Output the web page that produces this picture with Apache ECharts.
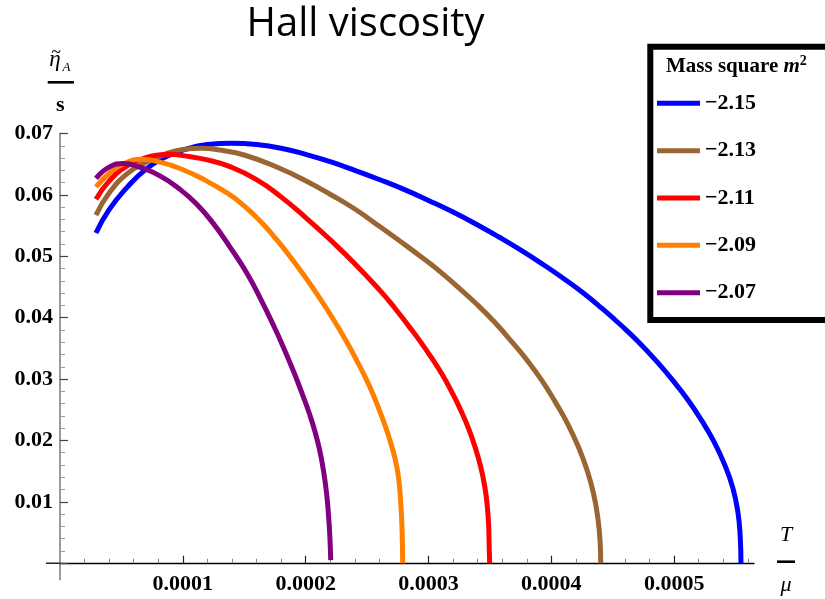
<!DOCTYPE html>
<html><head><meta charset="utf-8">
<script src="https://cdn.jsdelivr.net/npm/echarts@6/dist/echarts.min.js"></script>
<style>html,body{margin:0;padding:0;background:#fff}#c{width:825px;height:599px}</style>
</head><body><div id="c"></div>
<script>
// ---- data; T in units of 1e-4 ----
const seriesNames = ['\u22122.15', '\u22122.13', '\u22122.11', '\u22122.09', '\u22122.07'];
const T_UNIT = 1e-4;

const T_215 = [0.293,0.40,0.55,0.70,0.85,1.00,1.20,1.40,1.60,1.80,2.00,2.20,2.40,2.60,2.80,3.00,3.20,3.400,3.577,3.752,3.923,4.091,4.255,4.413,4.565,4.712,4.852,4.984,5.108,5.222,5.324,5.410,5.477,5.519,5.538,5.544];
const eta_215 = [0.0538,0.0576,0.0613,0.0642,0.0661,0.0673,0.0682,0.0684,0.0682,0.0676,0.0666,0.0654,0.0640,0.0625,0.0609,0.0591,0.0572,0.0551,0.0531,0.0510,0.0488,0.0465,0.0441,0.0415,0.0388,0.0360,0.0330,0.0299,0.0267,0.0233,0.0198,0.0161,0.0123,0.0083,0.0042,0];

const T_213 = [0.293,0.40,0.55,0.70,0.85,1.00,1.15,1.30,1.50,1.792,2.00,2.199,2.40,2.606,2.772,2.934,3.094,3.249,3.398,3.541,3.677,3.805,3.925,4.034,4.133,4.219,4.290,4.344,4.380,4.398,4.402];
const eta_213 = [0.0567,0.0603,0.0635,0.0653,0.0666,0.0674,0.0676,0.0673,0.0665,0.0643,0.0623,0.0601,0.0577,0.0548,0.0524,0.0500,0.0475,0.0448,0.0421,0.0392,0.0361,0.0330,0.0297,0.0262,0.0227,0.0190,0.0152,0.0113,0.0072,0.0032,0];

const T_211 = [0.293,0.407,0.543,0.678,0.80,0.90,1.00,1.20,1.384,1.60,1.792,2.00,2.199,2.40,2.606,2.72,2.836,2.934,3.027,3.113,3.192,3.263,3.327,3.381,3.425,3.458,3.479,3.490,3.494,3.498];
const eta_211 = [0.0593,0.0624,0.0647,0.0659,0.0665,0.0666,0.0664,0.0657,0.0646,0.0625,0.0598,0.0563,0.0527,0.0488,0.0444,0.0417,0.0387,0.0361,0.0334,0.0307,0.0278,0.0249,0.0219,0.0188,0.0157,0.0125,0.0092,0.0060,0.0027,0];

const T_209 = [0.293,0.407,0.52,0.665,0.80,0.977,1.18,1.384,1.47,1.56,1.66,1.751,1.86,1.979,2.10,2.226,2.33,2.416,2.49,2.551,2.61,2.661,2.71,2.742,2.762,2.777,2.785,2.790];
const eta_209 = [0.0613,0.0636,0.0651,0.0658,0.0654,0.0643,0.0624,0.0600,0.0587,0.0571,0.0551,0.0530,0.0503,0.0471,0.0436,0.0397,0.0362,0.0330,0.0301,0.0274,0.0244,0.0216,0.0184,0.0157,0.0129,0.0089,0.0053,0];

const T_207 = [0.293,0.407,0.515,0.651,0.814,0.977,1.112,1.246,1.384,1.523,1.637,1.751,1.816,1.873,1.930,1.981,2.028,2.072,2.113,2.144,2.169,2.185,2.197,2.204];
const eta_207 = [0.0627,0.0646,0.0651,0.0645,0.0631,0.0609,0.0585,0.0554,0.0515,0.0472,0.0429,0.0382,0.0353,0.0326,0.0298,0.0271,0.0245,0.0217,0.0185,0.0152,0.0116,0.0081,0.0043,0.0005];

const xMajorTicks = [0.0001, 0.0002, 0.0003, 0.0004, 0.0005];
const xMinorTicks = [0.00002,0.00004,0.00006,0.00008,0.00012,0.00014,0.00016,0.00018,0.00022,0.00024,0.00026,0.00028,0.00032,0.00034,0.00036,0.00038,0.00042,0.00044,0.00046,0.00048,0.00052,0.00054,0.00056];
const yTickLabels = [0.01, 0.02, 0.03, 0.04, 0.05, 0.06, 0.07];

const allT = [T_215, T_213, T_211, T_209, T_207];
const allEta = [eta_215, eta_213, eta_211, eta_209, eta_207];
const colors = ['#0000FF', '#996633', '#FF0000', '#FF8000', '#800080'];

// ---- chart ----
const chart = echarts.init(document.getElementById('c'), null, {renderer: 'canvas'});
const serif = '"Liberation Serif", "DejaVu Serif", serif';
const X_MAX = 0.000565;

const series = allT.map((T, k) => ({
  name: seriesNames[k],
  type: 'line',
  xAxisIndex: 0, yAxisIndex: 0,
  data: T.map((t, i) => [t * T_UNIT, allEta[k][i]]),
  showSymbol: false, symbol: 'none',
  smooth: 0.5,
  clip: false,
  color: colors[k],
  lineStyle: {width: 5, color: colors[k]},
  emphasis: {disabled: true}
}));

chart.setOption({
  animation: false,
  backgroundColor: '#fff',
  grid: {left: 60, right: 71, top: 133.5, bottom: 35.8, containLabel: false, outerBoundsMode: 'none'},
  xAxis: [{
    type: 'value', min: 0, max: X_MAX, position: 'bottom',
    axisLine: {show: true, onZero: false, lineStyle: {color: '#000', width: 1.3}},
    axisTick: {show: true, inside: true, length: 7.5, customValues: xMajorTicks, lineStyle: {color: '#222', width: 1.2}},
    axisLabel: {show: true, customValues: xMajorTicks, margin: 10,
      formatter: v => v.toFixed(4),
      fontFamily: serif, fontWeight: 'bold', fontSize: 22, color: '#000'},
    splitLine: {show: false}
  }, {
    type: 'value', min: 0, max: X_MAX, position: 'bottom',
    axisLine: {show: false, onZero: false},
    axisTick: {show: true, inside: true, length: 4.5, customValues: xMinorTicks, lineStyle: {color: '#888', width: 1}},
    axisLabel: {show: false},
    splitLine: {show: false}
  }],
  yAxis: [{
    type: 'value', min: 0, max: 0.07, interval: 0.01,
    axisLine: {show: true, onZero: false, lineStyle: {color: '#7a7a7a', width: 1.5}},
    axisTick: {show: true, inside: true, length: 8, lineStyle: {color: '#444', width: 1.2}},
    minorTick: {show: true, splitNumber: 5, length: 5, lineStyle: {color: '#999', width: 1}},
    axisLabel: {show: true, margin: 7,
      formatter: v => (yTickLabels.some(t => Math.abs(t - v) < 1e-9) ? v.toFixed(2) : ''),
      fontFamily: serif, fontWeight: 'bold', fontSize: 22, color: '#000'},
    splitLine: {show: false}
  }],
  legend: {
    show: true, orient: 'vertical', left: 657, top: 91.3,
    padding: 0, itemGap: 23.35, itemWidth: 43, itemHeight: 5, icon: 'rect',
    selectedMode: false,
    textStyle: {fontFamily: serif, fontWeight: 'bold', fontSize: 22, lineHeight: 24, color: '#000', padding: [0, 0, 0, 0]},
    data: seriesNames
  },
  series: series
});

// decorations: title, box, axis names, short axis extensions
const o = chart.convertToPixel({xAxisIndex: 0, yAxisIndex: 0}, [0, 0]);
chart.setOption({
  graphic: [
    {type: 'text', x: 365.5, y: 25, style: {text: 'Hall viscosity', font: '40px "Open Sans", Lato, sans-serif', fill: '#000', textAlign: 'center', textVerticalAlign: 'middle'}},
    {type: 'rect', shape: {x: 650.3, y: 46.7, width: 220, height: 273.3}, style: {fill: 'none', stroke: '#000', lineWidth: 6}},
    {type: 'text', x: 666, y: 66.5, style: {
      text: '{t|Mass square }{m|m}{s|2}',
      textVerticalAlign: 'middle',
      rich: {
        t: {font: 'bold 21px ' + serif, fill: '#000', lineHeight: 24},
        m: {font: 'italic bold 21px ' + serif, fill: '#000', lineHeight: 24},
        s: {font: 'bold 14px ' + serif, fill: '#000', lineHeight: 14, verticalAlign: 'top'}
      }}},
    // y-axis name  eta~_A / s
    {type: 'text', x: 55, y: 60, style: {text: '\u03B7', font: 'italic 23px ' + serif, fill: '#000', textAlign: 'center', textVerticalAlign: 'middle'}},
    {type: 'text', x: 56, y: 53, style: {text: '~', font: '18px ' + serif, fill: '#000', textAlign: 'center', textVerticalAlign: 'middle'}},
    {type: 'text', x: 66.5, y: 67.5, style: {text: 'A', font: 'italic 13px ' + serif, fill: '#000', textAlign: 'center', textVerticalAlign: 'middle'}},
    {type: 'line', shape: {x1: 47.7, y1: 82.3, x2: 74, y2: 82.3}, style: {stroke: '#000', lineWidth: 2.6}},
    {type: 'text', x: 60.3, y: 105, style: {text: 's', font: 'bold 22px ' + serif, fill: '#000', textAlign: 'center', textVerticalAlign: 'middle'}},
    // x-axis name  T / mu
    {type: 'text', x: 786, y: 535, style: {text: 'T', font: 'italic 22px ' + serif, fill: '#000', textAlign: 'center', textVerticalAlign: 'middle'}},
    {type: 'line', shape: {x1: 777, y1: 561.7, x2: 795, y2: 561.7}, style: {stroke: '#000', lineWidth: 2.6}},
    {type: 'text', x: 786, y: 585, style: {text: '\u03BC', font: 'italic 22px ' + serif, fill: '#000', textAlign: 'center', textVerticalAlign: 'middle'}},
    // axis extensions past the origin
    {type: 'line', shape: {x1: o[0] - 14, y1: o[1], x2: o[0], y2: o[1]}, style: {stroke: '#000', lineWidth: 1.3}},
    {type: 'line', shape: {x1: o[0], y1: o[1], x2: o[0], y2: o[1] + 17}, style: {stroke: '#7a7a7a', lineWidth: 1.5}}
  ]
});
</script></body></html>
